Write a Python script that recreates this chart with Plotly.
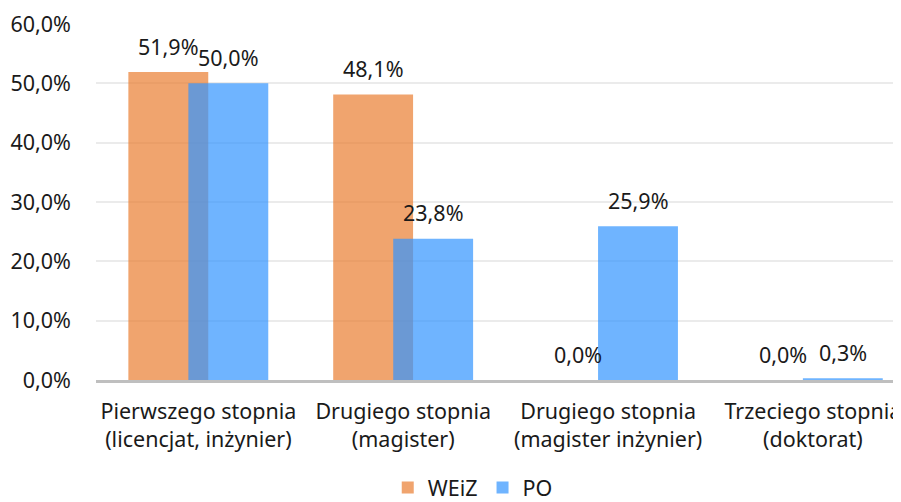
import plotly.graph_objects as go

categories = [
    "Pierwszego stopnia<br>(licencjat, inżynier)",
    "Drugiego stopnia<br>(magister)",
    "Drugiego stopnia<br>(magister inżynier)",
    "Trzeciego stopnia<br>(doktorat)",
]
weiz = [51.9, 48.1, 0.0, 0.0]
po = [50.0, 23.8, 25.9, 0.3]
tick_vals = [0, 10, 20, 30, 40, 50, 60]
tick_labels = ["0,0%", "10,0%", "20,0%", "30,0%", "40,0%", "50,0%", "60,0%"]

font_family = "Noto Sans, Open Sans, sans-serif"
fsize = 21.5

fig = go.Figure()

fig.add_trace(go.Bar(
    x=categories, y=weiz, name="WEiZ",
    marker=dict(color="rgba(234,125,48,0.7)", line=dict(width=0)),
    width=0.39, offset=-0.342,
))
fig.add_trace(go.Bar(
    x=categories, y=po, name="PO",
    marker=dict(color="rgba(50,148,255,0.7)", line=dict(width=0)),
    width=0.39, offset=-0.049,
))

# value labels above the bars (comma decimal separator)
for vals, shift in [(weiz, -30), (po, 30)]:
    for cat, v in zip(categories, vals):
        fig.add_annotation(
            x=cat, y=v, text=f"{v:.1f}%".replace(".", ","),
            showarrow=False, xshift=shift, yshift=26, yanchor="middle",
            font=dict(size=fsize, color="#1a1a1a"),
        )

fig.update_layout(
    barmode="overlay",
    width=901, height=502,
    margin=dict(l=88, r=8, t=16, b=130, autoexpand=False),
    paper_bgcolor="white", plot_bgcolor="white",
    font=dict(family=font_family, size=fsize, color="#1a1a1a"),
    legend=dict(
        orientation="h", x=0.468, xanchor="center",
        yref="container", y=0.004, yanchor="bottom",
        font=dict(size=fsize), traceorder="normal",
        itemwidth=30,
    ),
)
fig.update_yaxes(
    range=[0, 60], tickvals=tick_vals, ticktext=tick_labels,
    showgrid=True, gridcolor="#ebebeb", gridwidth=1.5,
    zeroline=False, showline=False, ticklabelstandoff=24,
    tickfont=dict(size=fsize),
)
fig.update_xaxes(
    range=[-0.5, 3.43],
    showline=True, linecolor="#bfbfbf", linewidth=2.5,
    ticks="", ticklabelstandoff=10, tickfont=dict(size=fsize),
)

fig.write_html("out.html")
